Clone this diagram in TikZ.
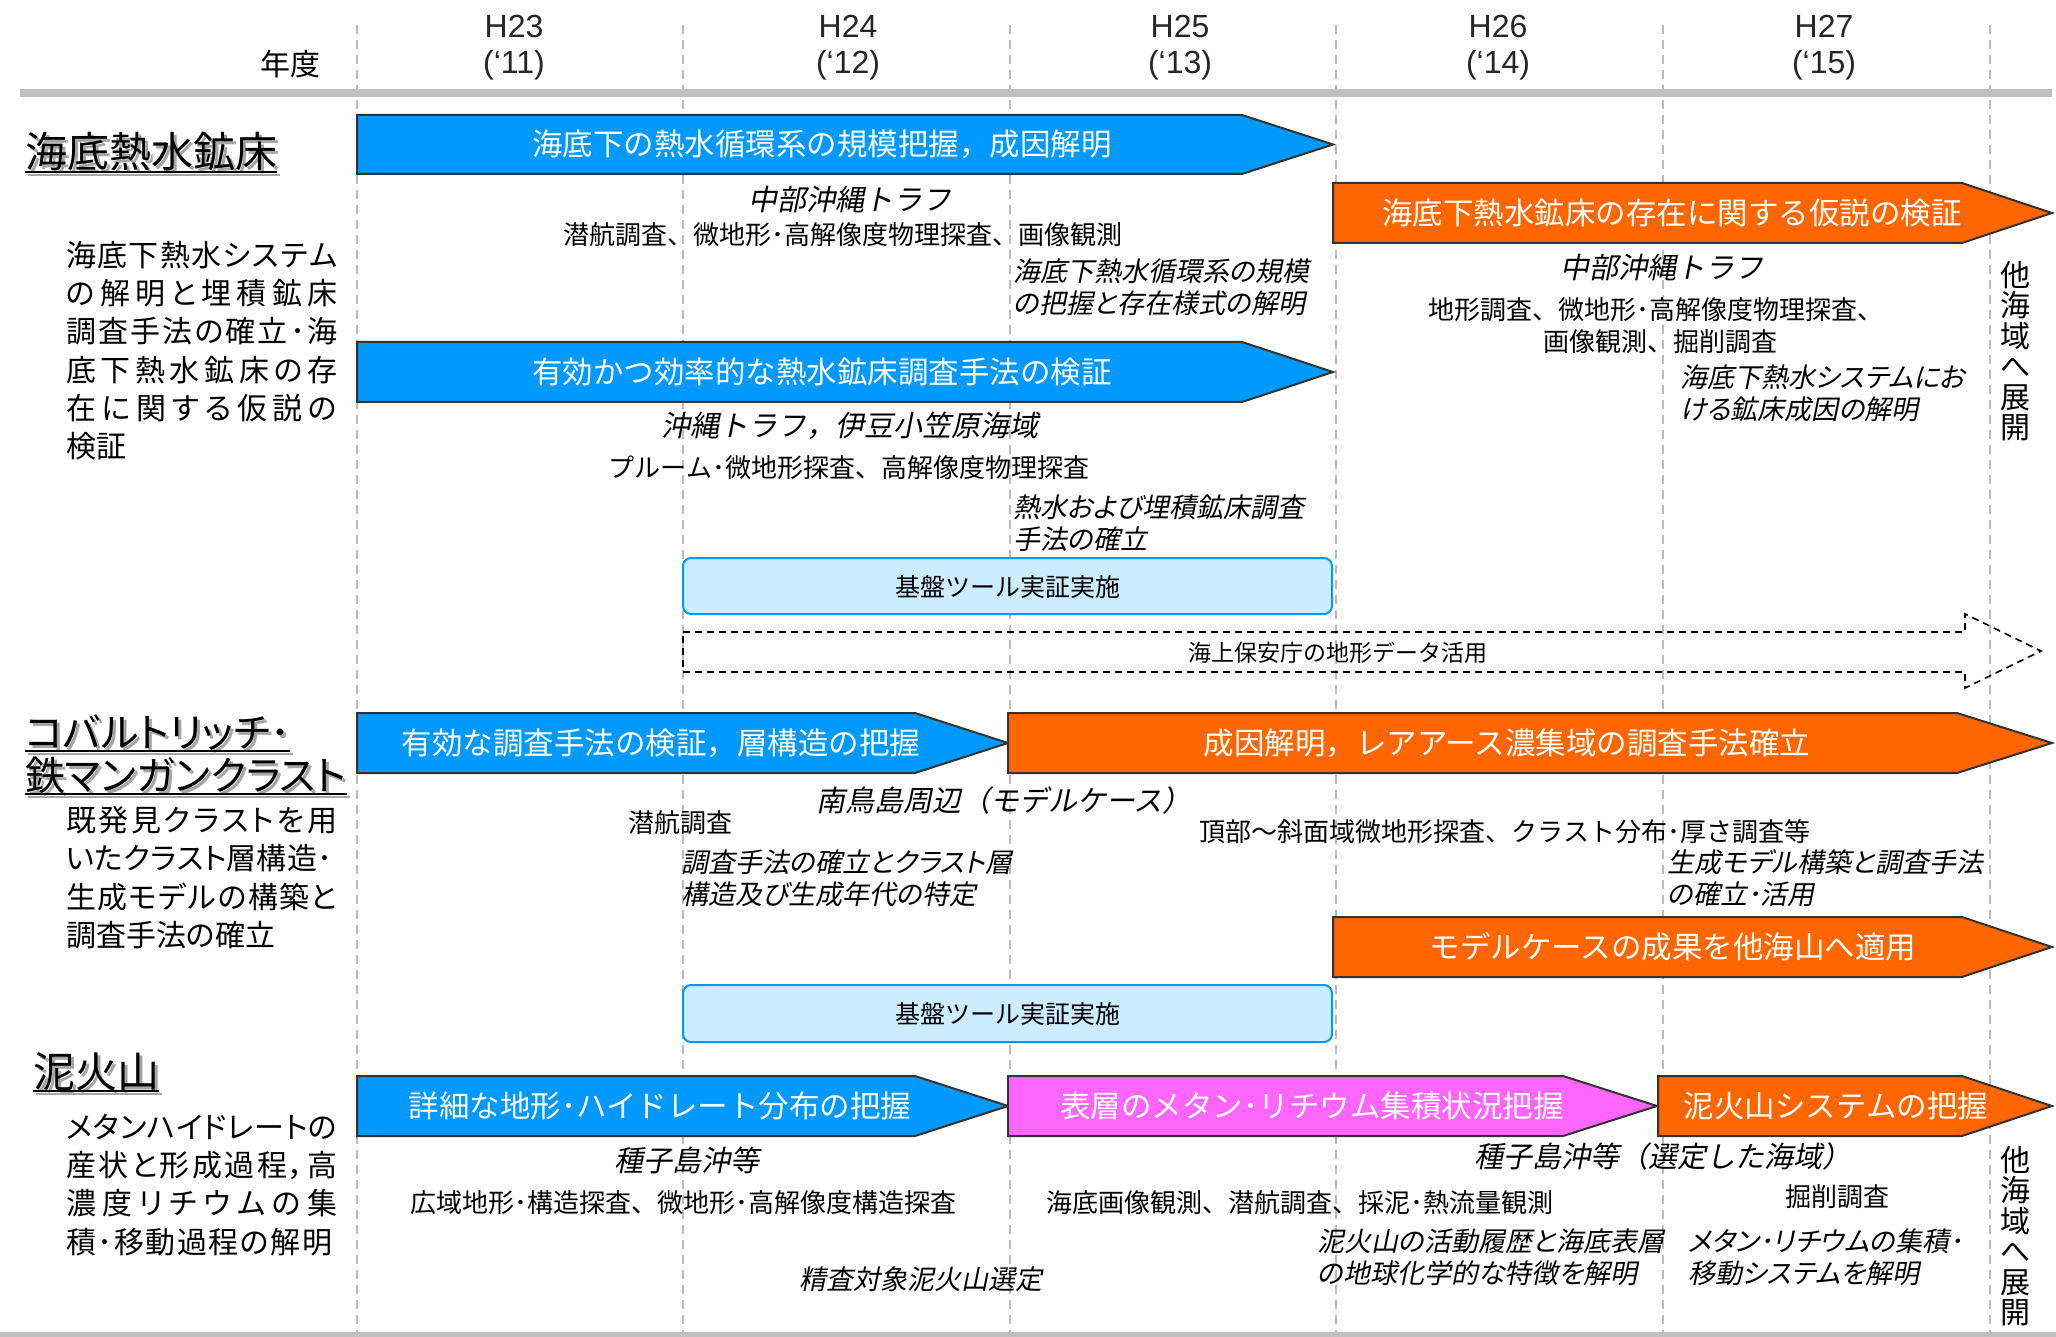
\documentclass[tikz,border=0pt]{standalone}
\usepackage{fontspec}
\setmainfont{Liberation Sans}
\newfontfamily\jp{Noto Sans CJK JP}
\newfontfamily\jpp[RawFeature=+palt]{Noto Sans CJK JP}
\newfontfamily\jpi[FakeSlant=0.2]{Noto Sans CJK JP}
\newfontfamily\jpip[FakeSlant=0.2,RawFeature=+palt]{Noto Sans CJK JP}
\newcommand\fsz[2]{\fontsize{#1pt}{#2pt}\selectfont}
\def\spreadaux#1{#1\spreadnext}
\def\spreadnext#1{\ifx\relax#1\else\hfil#1\expandafter\spreadnext\fi}
\newcommand\spreadline[2]{\makebox[#1][s]{\spreadaux#2\relax}}
\definecolor{barblue}{HTML}{0099FF}
\definecolor{barorange}{HTML}{FF6600}
\definecolor{barmag}{HTML}{FF66FF}
\definecolor{lbfill}{HTML}{CCECFF}
\definecolor{gridgray}{HTML}{BBBBBB}
\definecolor{bandgray}{HTML}{C0C0C0}
\definecolor{edge}{HTML}{333333}
% name, x1, xbody, xtip, ytop, ybot, color, textx, text
\newcommand\tbar[9]{%
  \draw[barline, fill=#7] (#2,#5) -- (#3,#5) -- (#4,{(#5+#6)/2}) -- (#3,#6) -- (#2,#6) -- cycle;
  \node[bartext] (#1) at (#8,{(#5+#6)/2}) {#9};}
% name, x, y, size, text
\newcommand\heading[5]{%
  \node[head, text=black!35, font=\jpp\fsz{#4}{#4}] (#1s) at (#2+3,#3+3) {#5};
  \draw[black!35, line width=2pt] (#1s.south west) -- (#1s.south east);
  \node[head, font=\jpp\fsz{#4}{#4}] (#1) at (#2,#3) {#5};
  \draw[black, line width=2pt] (#1.south west) -- (#1.south east);}
\begin{document}
\begin{tikzpicture}[x=1pt,y=-1pt,
  barline/.style={draw=edge, line width=2pt, line join=miter},
  bartext/.style={text=white, font=\jp\fsz{30.5}{32}, inner sep=0pt},
  yeartext/.style={font=\fsz{32}{34}, inner sep=0pt, text=black!85},
  lbl/.style={font=\jp\fsz{26}{30}, inner sep=0pt},
  itl/.style={font=\jpi\fsz{29}{32}, inner sep=0pt},
  note/.style={font=\jpip\fsz{27}{32}, inner sep=0pt, anchor=west, align=left},
  desc/.style={font=\jpp\fsz{30}{34}, inner sep=0pt, anchor=west},
  head/.style={inner sep=0pt, anchor=west},
  tool/.style={draw=barblue, line width=2pt, fill=lbfill, rounded corners=8pt},
  tooltext/.style={font=\jp\fsz{25}{28}, inner sep=0pt},
  vert/.style={font=\jp\fsz{30}{30.5}, inner sep=0pt, align=center},
  grid/.style={draw=gridgray, line width=1.2pt, dash pattern=on 9pt off 6pt},
]
\useasboundingbox (0,0) rectangle (2056,1337);
\fill[white] (0,0) rectangle (2056,1337);

% grid lines
\foreach \gx in {357,683,1010,1336,1663,1990}
  \draw[grid] (\gx,25) -- (\gx,1332);

% bands
\fill[bandgray] (20,89) rectangle (2052,97);
\fill[bandgray] (0,1332) rectangle (2056,1337);

% header
\node[font=\jp\fsz{30}{32}, inner sep=0pt] (nendo) at (290,64) {年度};
\node[yeartext] (y1a) at (514,26) {H23};
\node[yeartext] (y1b) at (514,65) {(‘11)};
\node[yeartext] (y2a) at (848,26) {H24};
\node[yeartext] (y2b) at (848,65) {(‘12)};
\node[yeartext] (y3a) at (1180,26) {H25};
\node[yeartext] (y3b) at (1180,65) {(‘13)};
\node[yeartext] (y4a) at (1498,26) {H26};
\node[yeartext] (y4b) at (1498,65) {(‘14)};
\node[yeartext] (y5a) at (1824,26) {H27};
\node[yeartext] (y5b) at (1824,65) {(‘15)};

% ===== Section 1 =====
\heading{h1}{25}{152}{42}{海底熱水鉱床}
\node[desc] (d1a) at (66,255) {\spreadline{271pt}{海底下熱水システム}};
\node[desc] (d1b) at (66,293) {\spreadline{271pt}{の解明と埋積鉱床}};
\node[desc] (d1c) at (66,331) {\spreadline{271pt}{調査手法の確立･海}};
\node[desc] (d1d) at (66,370) {\spreadline{271pt}{底下熱水鉱床の存}};
\node[desc] (d1e) at (66,408) {\spreadline{271pt}{在に関する仮説の}};
\node[desc] (d1f) at (66,446) {検証};

\tbar{b1}{357}{1242}{1333}{115}{174}{barblue}{822}{海底下の熱水循環系の規模把握，成因解明}
\node[itl] (l1) at (850,200) {中部沖縄トラフ};
\node[lbl] (l2) at (843,235) {潜航調査、微地形･高解像度物理探査、画像観測};
\node[note] (n1) at (1013,287) {海底下熱水循環系の規模\\の把握と存在様式の解明};

\tbar{b2}{357}{1242}{1333}{342}{402}{barblue}{822}{有効かつ効率的な熱水鉱床調査手法の検証}
\node[itl] (l3) at (850,426) {沖縄トラフ，伊豆小笠原海域};
\node[lbl] (l4) at (849,468) {プルーム･微地形探査、高解像度物理探査};
\node[note] (n2) at (1013,523) {熱水および埋積鉱床調査\\手法の確立};

\draw[tool] (683,558) rectangle (1332,614);
\node[tooltext] (t1) at (1008,587) {基盤ツール実証実施};

\draw[black, line width=1.6pt, dash pattern=on 7pt off 5pt]
  (683,632) -- (1965,632) -- (1965,614) -- (2041,651) -- (1965,688) -- (1965,672) -- (683,672) -- cycle;
\node[font=\jp\fsz{23}{26}, inner sep=0pt] (kaijo) at (1338,653) {海上保安庁の地形データ活用};

\tbar{o1}{1333}{1962}{2052}{183}{243}{barorange}{1672}{海底下熱水鉱床の存在に関する仮説の検証}
\node[itl] (l5) at (1662,268) {中部沖縄トラフ};
\node[lbl] (l6) at (1656,310) {地形調査、微地形･高解像度物理探査、};
\node[lbl] (l7) at (1660,342) {画像観測、掘削調査};
\node[note] (n3) at (1680,393) {海底下熱水システムにお\\ける鉱床成因の解明};
\node[vert] (v1) at (2015,351) {他\\海\\域\\へ\\展\\開};

% ===== Section 2 =====
\heading{h2a}{25}{733}{40}{コバルトリッチ･}
\heading{h2b}{25}{775}{40}{鉄マンガンクラスト}
\node[desc] (d2a) at (66,820) {\spreadline{271pt}{既発見クラストを用}};
\node[desc] (d2b) at (66,858) {\spreadline{266pt}{いたクラスト層構造･}};
\node[desc] (d2c) at (66,897) {\spreadline{271pt}{生成モデルの構築と}};
\node[desc] (d2d) at (66,935) {調査手法の確立};

\tbar{b3}{357}{915}{1008}{713}{773}{barblue}{661}{有効な調査手法の検証，層構造の把握}
\tbar{o2}{1008}{1957}{2052}{713}{773}{barorange}{1507}{成因解明，レアアース濃集域の調査手法確立}
\node[itl] (l8) at (1004,800) {南鳥島周辺（モデルケース）};
\node[lbl] (l9) at (680,823) {潜航調査};
\node[note] (n4) at (681,878) {調査手法の確立とクラスト層\\構造及び生成年代の特定};
\node[lbl] (l10) at (1505,832) {頂部～斜面域微地形探査、クラスト分布･厚さ調査等};
\node[note] (n5) at (1667,878) {生成モデル構築と調査手法\\の確立･活用};

\tbar{o3}{1333}{1962}{2052}{917}{977}{barorange}{1673}{モデルケースの成果を他海山へ適用}

\draw[tool] (683,985) rectangle (1332,1042);
\node[tooltext] (t2) at (1008,1014) {基盤ツール実証実施};

% ===== Section 3 =====
\heading{h3}{33}{1072}{42}{泥火山}
\node[desc] (d3a) at (66,1127) {\spreadline{271pt}{メタンハイドレートの}};
\node[desc] (d3b) at (66,1165) {\spreadline{271pt}{産状と形成過程，高}};
\node[desc] (d3c) at (66,1203) {\spreadline{271pt}{濃度リチウムの集}};
\node[desc] (d3d) at (66,1242) {\spreadline{266pt}{積･移動過程の解明}};

\tbar{b4}{357}{915}{1008}{1076}{1136}{barblue}{660}{詳細な地形･ハイドレート分布の把握}
\tbar{m1}{1008}{1563}{1657}{1076}{1136}{barmag}{1312}{表層のメタン･リチウム集積状況把握}
\tbar{o4}{1658}{1962}{2052}{1076}{1136}{barorange}{1836}{泥火山システムの把握}

\node[itl] (l11) at (687,1160) {種子島沖等};
\node[lbl] (l12) at (683,1203) {広域地形･構造探査、微地形･高解像度構造探査};
\node[note] (n6) at (799,1279) {精査対象泥火山選定};
\node[itl] (l13) at (1663,1156) {種子島沖等（選定した海域）};
\node[lbl] (l14) at (1300,1203) {海底画像観測、潜航調査、採泥･熱流量観測};
\node[lbl] (l15) at (1837,1197) {掘削調査};
\node[note] (n7) at (1317,1257) {泥火山の活動履歴と海底表層\\の地球化学的な特徴を解明};
\node[note] (n8) at (1688,1257) {メタン･リチウムの集積･\\移動システムを解明};
\node[vert] (v2) at (2015,1236) {他\\海\\域\\へ\\展\\開};
\end{tikzpicture}
\end{document}
